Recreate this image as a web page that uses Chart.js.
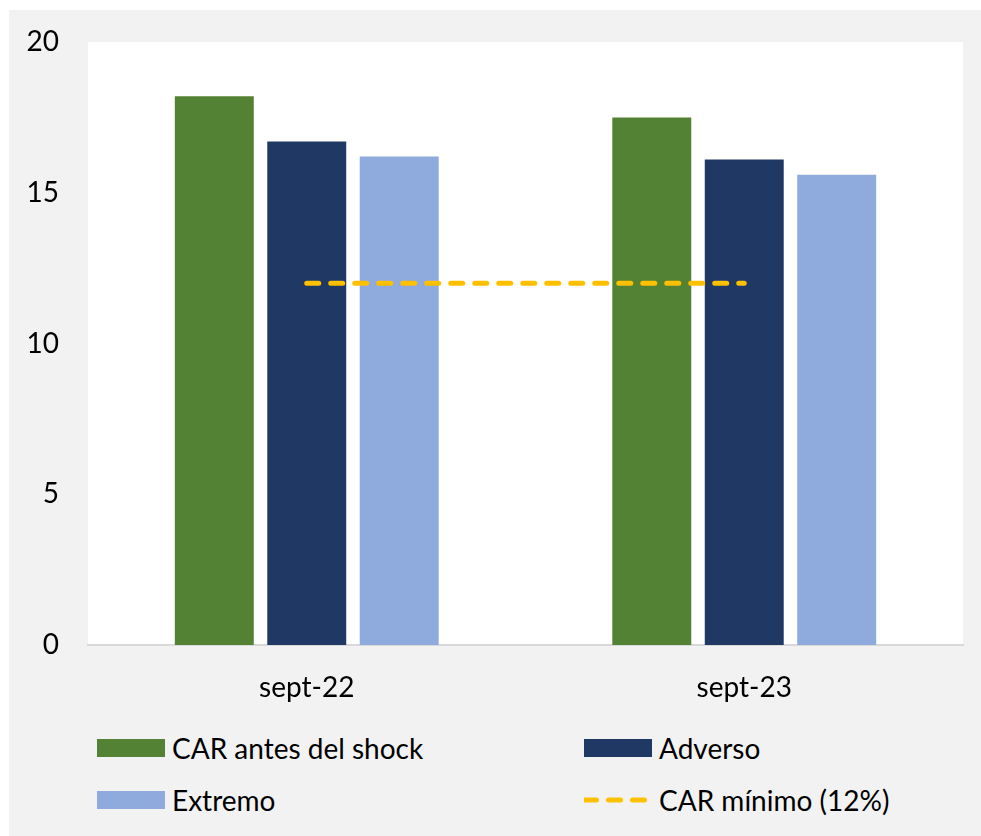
<!DOCTYPE html>
<html lang="es">
<head>
<meta charset="utf-8">
<title>CAR bajo escenarios de estrés</title>
<script src="https://cdn.jsdelivr.net/npm/chart.js@4.4.1/dist/chart.umd.min.js"></script>
<style>
	html, body {
		margin: 0;
		padding: 0;
		background: #ffffff;
	}
	#panel {
		position: absolute;
		left: 9px;
		top: 10px;
		width: 972px;
		height: 826px;
		background: #f2f2f2;
		font-family: Lato, 'Noto Sans', sans-serif;
	}
	#chart {
		position: absolute;
		left: 0;
		top: 0;
	}
	#legend {
		position: absolute;
		left: 88px;
		top: 712px;
		display: grid;
		grid-template-columns: 487px 380px;
		grid-auto-rows: 52px;
	}
	.item {
		display: flex;
		align-items: center;
		font-size: 28px;
		color: #000;
		white-space: nowrap;
	}
	.item svg {
		margin-right: 7px;
		flex: none;
	}
</style>
</head>
<body>
<div id="panel">
	<canvas id="chart" width="972" height="710"></canvas>
	<div id="legend"></div>
</div>
<script>
( function () {
	'use strict';

	var categories = [ 'sept-22', 'sept-23' ];
	var carAntes = [ 18.2, 17.5 ];
	var adverso = [ 16.7, 16.1 ];
	var extremo = [ 16.2, 15.6 ];
	var carMinimo = [ 12, 12 ];
	var yTicks = [ 0, 5, 10, 15, 20 ];

	var font = { family: 'Lato, "Noto Sans", sans-serif', size: 28 };

	// white plot area on the grey panel
	var plotBackground = {
		id: 'plotBackground',
		beforeDraw: function ( chart ) {
			var a = chart.chartArea;
			var ctx = chart.ctx;
			ctx.save();
			ctx.fillStyle = '#ffffff';
			ctx.fillRect( a.left, a.top, a.right - a.left, a.bottom - a.top );
			ctx.restore();
		},
	};

	var datasets = [
		{
			type: 'line',
			label: 'CAR mínimo (12%)',
			data: carMinimo,
			borderColor: '#ffc000',
			borderWidth: 5,
			borderDash: [ 12, 12 ],
			borderCapStyle: 'round',
			pointRadius: 0,
			fill: false,
			order: 0,
		},
		{
			label: 'CAR antes del shock',
			data: carAntes,
			backgroundColor: '#548235',
			order: 1,
		},
		{
			label: 'Adverso',
			data: adverso,
			backgroundColor: '#203864',
			order: 1,
		},
		{
			label: 'Extremo',
			data: extremo,
			backgroundColor: '#8faadc',
			order: 1,
		},
	];

	new Chart( document.getElementById( 'chart' ), {
		type: 'bar',
		data: {
			labels: categories,
			datasets: datasets,
		},
		options: {
			responsive: false,
			animation: false,
			devicePixelRatio: 1,
			categoryPercentage: 0.634,
			barPercentage: 0.854,
			layout: {
				padding: { top: 32, right: 18, left: 0, bottom: 0 },
			},
			plugins: {
				legend: { display: false },
				tooltip: { enabled: false },
			},
			scales: {
				x: {
					grid: {
						display: true,
						drawOnChartArea: false,
						drawTicks: false,
					},
					border: {
						display: true,
						color: '#d9d9d9',
						width: 2,
					},
					ticks: {
						color: '#000000',
						font: font,
						padding: 26,
					},
					afterFit: function ( scale ) {
						scale.height = 75;
					},
				},
				y: {
					min: yTicks[ 0 ],
					max: yTicks[ yTicks.length - 1 ],
					grid: { display: false },
					border: { display: false },
					afterBuildTicks: function ( scale ) {
						scale.ticks = yTicks.map( function ( v ) {
							return { value: v };
						} );
					},
					ticks: {
						color: '#000000',
						font: font,
						padding: 21,
					},
					afterFit: function ( scale ) {
						scale.width = 79;
						scale.paddingTop = 0;
						scale.paddingBottom = 0;
					},
				},
			},
		},
		plugins: [ plotBackground ],
	} );

	// legend: bars first in two columns, the dashed line last
	var legendOrder = [ 1, 2, 3, 0 ];
	var legend = document.getElementById( 'legend' );
	legendOrder.forEach( function ( i ) {
		var ds = datasets[ i ];
		var item = document.createElement( 'div' );
		item.className = 'item';
		var swatch;
		if ( ds.type === 'line' ) {
			swatch = '<svg width="68" height="18"><line x1="0.5" y1="9" x2="66" y2="9" stroke="' +
				ds.borderColor + '" stroke-width="' + ds.borderWidth + '" stroke-dasharray="' +
				ds.borderDash.join( ' ' ) + '" stroke-linecap="round"/></svg>';
		} else {
			swatch = '<svg width="68" height="18"><rect x="0" y="0" width="68" height="18" fill="' +
				ds.backgroundColor + '"/></svg>';
		}
		item.innerHTML = swatch + '<span>' + ds.label + '</span>';
		legend.appendChild( item );
	} );
} )();
</script>
</body>
</html>
